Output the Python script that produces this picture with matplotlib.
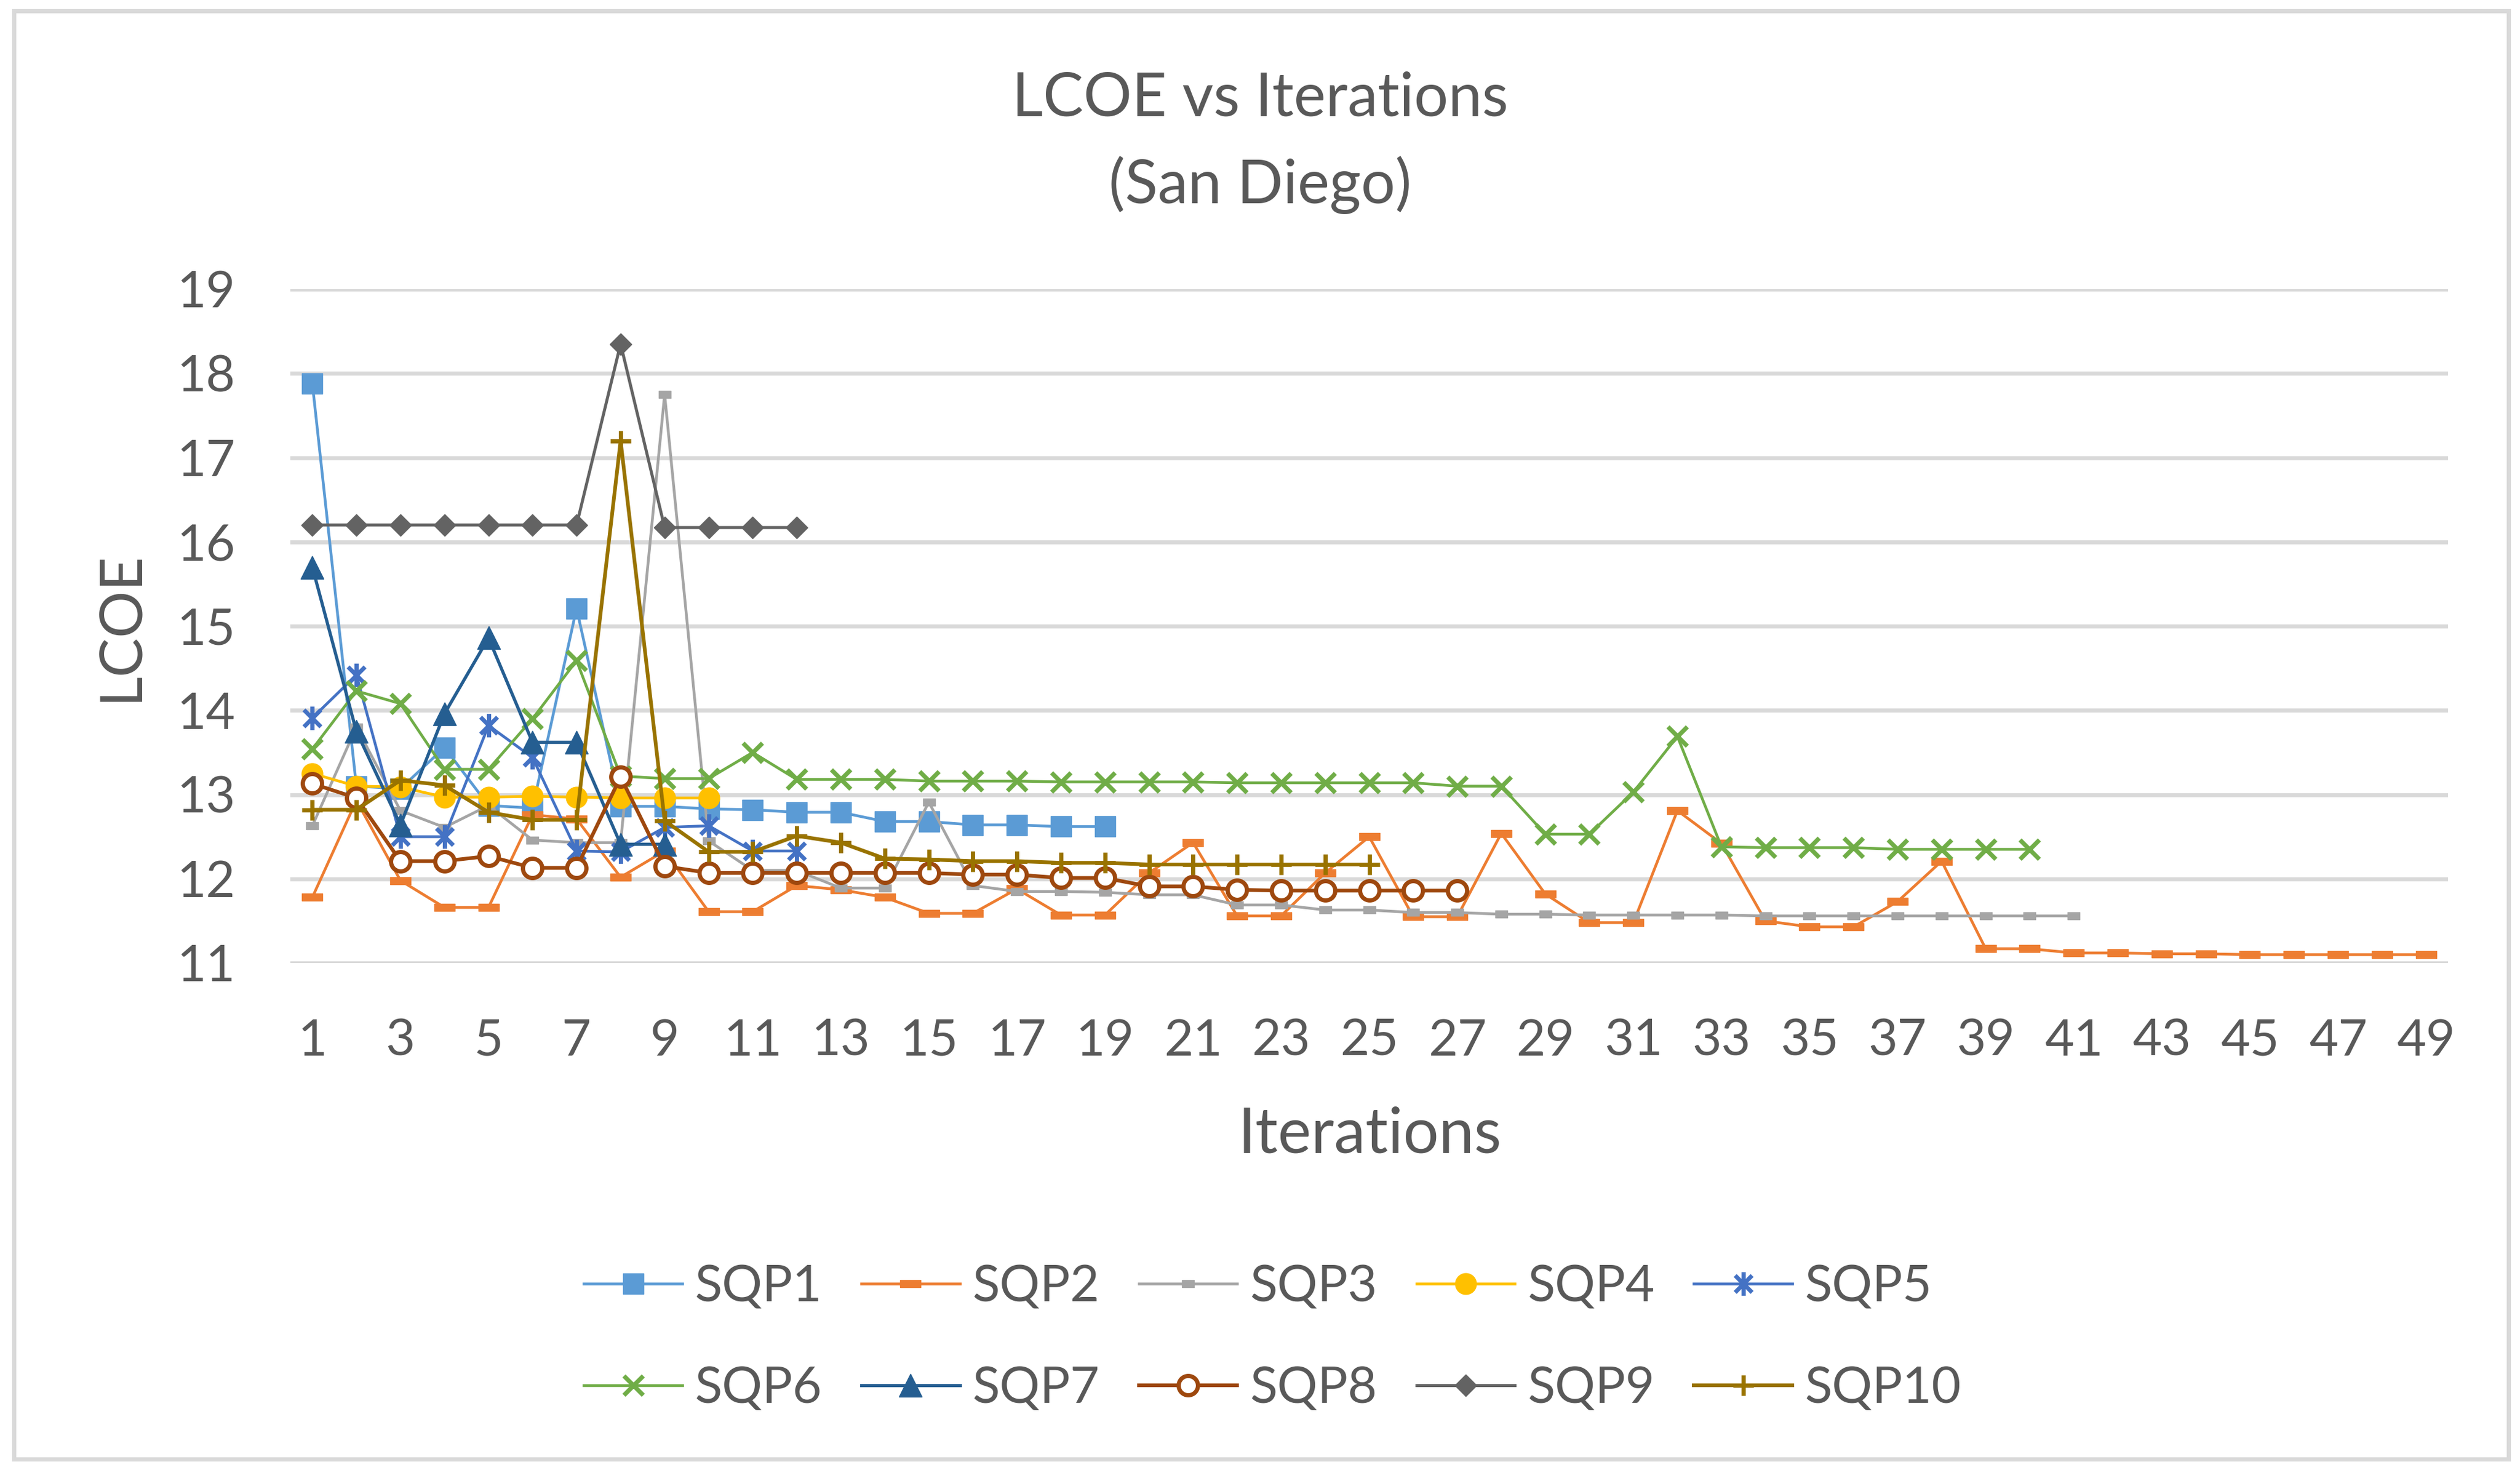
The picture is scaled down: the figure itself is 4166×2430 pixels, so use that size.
import numpy as np
import matplotlib
matplotlib.use("Agg")
import matplotlib.pyplot as plt
from matplotlib.path import Path
from matplotlib.patches import Rectangle

# LCOE per iteration for each SQP run
sqp1 = [17.88, 13.10, 13.07, 13.56, 12.87, 12.84, 15.21, 12.86, 12.86, 12.83,
        12.82, 12.79, 12.79, 12.68, 12.68, 12.64, 12.64, 12.62, 12.62]
sqp2 = [11.78, 12.93, 11.98, 11.66, 11.66, 12.76, 12.71, 12.02, 12.33, 11.61,
        11.61, 11.92, 11.87, 11.78, 11.59, 11.59, 11.88, 11.57, 11.57, 12.07,
        12.43, 11.56, 11.56, 12.07, 12.50, 11.55, 11.55, 12.54, 11.82, 11.48,
        11.48, 12.81, 12.42, 11.50, 11.43, 11.43, 11.73, 12.21, 11.17, 11.17,
        11.12, 11.12, 11.11, 11.11, 11.10, 11.10, 11.10, 11.10, 11.10]
sqp3 = [12.63, 13.80, 12.81, 12.61, 12.87, 12.46, 12.43, 12.43, 17.75, 12.45,
        12.10, 12.10, 11.89, 11.89, 12.91, 11.92, 11.85, 11.85, 11.84, 11.81,
        11.81, 11.69, 11.69, 11.63, 11.63, 11.60, 11.60, 11.58, 11.58, 11.57,
        11.57, 11.57, 11.57, 11.56, 11.56, 11.56, 11.56, 11.56, 11.56, 11.56,
        11.56]
sqp4 = [13.25, 13.10, 13.09, 12.97, 12.97, 12.98, 12.97, 12.96, 12.96, 12.96]
sqp5 = [13.91, 14.42, 12.50, 12.50, 13.82, 13.44, 12.33, 12.32, 12.61, 12.63,
        12.33, 12.33]
sqp6 = [13.54, 14.23, 14.08, 13.30, 13.30, 13.90, 14.59, 13.22, 13.19, 13.19,
        13.50, 13.18, 13.18, 13.18, 13.16, 13.16, 13.16, 13.15, 13.15, 13.15,
        13.15, 13.14, 13.14, 13.14, 13.14, 13.14, 13.10, 13.10, 12.53, 12.53,
        13.03, 13.69, 12.38, 12.37, 12.37, 12.37, 12.35, 12.35, 12.35, 12.35]
sqp7 = [15.70, 13.75, 12.64, 13.96, 14.86, 13.62, 13.62, 12.41, 12.41]
sqp8 = [13.13, 12.96, 12.21, 12.21, 12.27, 12.13, 12.13, 13.21, 12.15, 12.07,
        12.07, 12.07, 12.07, 12.07, 12.07, 12.05, 12.05, 12.01, 12.01, 11.91,
        11.91, 11.87, 11.86, 11.86, 11.86, 11.86, 11.86]
sqp9 = [16.20, 16.20, 16.20, 16.20, 16.20, 16.20, 16.20, 18.35, 16.17, 16.17,
        16.17, 16.17]
sqp10 = [12.82, 12.82, 13.17, 13.11, 12.79, 12.70, 12.70, 17.20, 12.69, 12.32,
         12.32, 12.51, 12.43, 12.24, 12.23, 12.21, 12.21, 12.19, 12.19, 12.17,
         12.17, 12.17, 12.17, 12.17, 12.17]

series_names = ["SQP1", "SQP2", "SQP3", "SQP4", "SQP5",
                "SQP6", "SQP7", "SQP8", "SQP9", "SQP10"]
series_values = [sqp1, sqp2, sqp3, sqp4, sqp5, sqp6, sqp7, sqp8, sqp9, sqp10]
x_ticks = list(range(1, 50, 2))
y_ticks = list(range(11, 20))

TEXT = "#595959"
GRID = "#D9D9D9"
FONT = "Lato"
plt.rcParams["font.family"] = [FONT, "DejaVu Sans"]

# custom markers, excel style
dash = [(-1, -0.36), (1, -0.36), (1, 0.36), (-1, 0.36), (-1, -0.36)]
small_dash = [(-1, -0.6), (1, -0.6), (1, 0.6), (-1, 0.6), (-1, -0.6)]
asterisk = Path([(0, -1), (0, 1), (-0.72, -0.72), (0.72, 0.72),
                 (-0.72, 0.72), (0.72, -0.72)],
                [Path.MOVETO, Path.LINETO, Path.MOVETO, Path.LINETO,
                 Path.MOVETO, Path.LINETO])

styles = [
    dict(color="#5B9BD5", marker="s", ms=24, lw=3.3),
    dict(color="#ED7D31", marker=dash, ms=24, lw=3.3),
    dict(color="#A5A5A5", marker=small_dash, ms=14, lw=3.3),
    dict(color="#FFC000", marker="o", ms=25, lw=3.3),
    dict(color="#4472C4", marker=asterisk, ms=28, lw=3.3, mew=5, mfc="none"),
    dict(color="#70AD47", marker="x", ms=23, lw=3.3, mew=5.2),
    dict(color="#255E91", marker="^", ms=27, lw=3.8),
    dict(color="#9E480E", marker="o", ms=23, lw=4.4, mew=5, mfc="white"),
    dict(color="#636363", marker="D", ms=18, lw=3.6),
    dict(color="#997300", marker="+", ms=25, lw=4.4, mew=5),
]

fig = plt.figure(figsize=(41.66, 24.30), dpi=100)
ax = fig.add_axes([480 / 4166, 1 - 1592 / 2430, 3567 / 4166, (1592 - 478) / 2430])

handles = []
for i, (name, vals, st) in enumerate(zip(series_names, series_values, styles)):
    it = np.arange(1, len(vals) + 1)
    st = dict(st)
    color = st.pop("color")
    h, = ax.plot(it, vals, color=color, label=name,
                 markeredgecolor=color,
                 markerfacecolor=st.pop("mfc", color),
                 markeredgewidth=st.pop("mew", 1.0),
                 marker=st.pop("marker"), markersize=st.pop("ms"),
                 linewidth=st.pop("lw"), zorder=3 + i)
    handles.append(h)

ax.set_xlim(0.5, 49.5)
ax.set_ylim(11, 19)
ax.set_xticks(x_ticks)
ax.set_yticks(y_ticks)
ax.yaxis.grid(True, color=GRID, linewidth=4.8)
ax.set_axisbelow(True)
for sp in ax.spines.values():
    sp.set_visible(False)
ax.tick_params(axis="both", length=0, labelsize=60, labelcolor=TEXT)
ax.tick_params(axis="y", pad=66)
ax.tick_params(axis="x", pad=66)

fig.text(0.5, 1 - 192 / 2430, "LCOE vs Iterations", ha="center",
         va="baseline", fontsize=72, color=TEXT)
fig.text(0.5, 1 - 336 / 2430, "(San Diego)", ha="center",
         va="baseline", fontsize=72, color=TEXT)
fig.text(200 / 4166, 1 - 1035 / 2430, "LCOE", rotation=90, ha="center",
         va="center", fontsize=70, color=TEXT)
fig.text(2264 / 4166, 1 - 1876 / 2430, "Iterations", ha="center",
         va="center", fontsize=75, color=TEXT)

# legend: two rows of five, matplotlib fills column by column
order = [0, 5, 1, 6, 2, 7, 3, 8, 4, 9]
leg = fig.legend([handles[k] for k in order], [series_names[k] for k in order],
                 ncol=5, loc="center", bbox_to_anchor=(0.505, 1 - 2212 / 2430),
                 frameon=False, fontsize=60, handlelength=1.95,
                 handletextpad=0.25, columnspacing=0.78, labelspacing=1.1)
for t in leg.get_texts():
    t.set_color(TEXT)

fig.patches.append(Rectangle((23 / 4166, 18 / 2430), (4147 - 23) / 4166,
                             (2412 - 18) / 2430, transform=fig.transFigure,
                             fill=False, edgecolor=GRID, linewidth=5))

fig.savefig("out.png", dpi=100, facecolor="white")
